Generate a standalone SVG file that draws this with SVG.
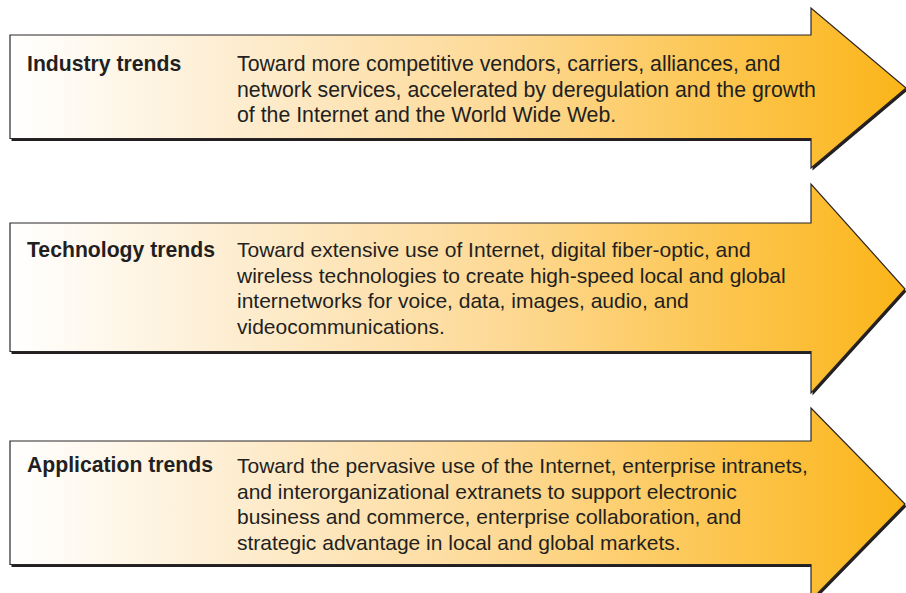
<svg xmlns="http://www.w3.org/2000/svg" width="906" height="593" viewBox="0 0 906 593">
  <defs>
    <linearGradient id="grad" gradientUnits="userSpaceOnUse" x1="10" y1="0" x2="906" y2="0">
      <stop offset="0" stop-color="#ffffff"/>
      <stop offset="0.28" stop-color="#fdebcb"/>
      <stop offset="0.55" stop-color="#fdd995"/>
      <stop offset="0.8" stop-color="#fcc54e"/>
      <stop offset="1" stop-color="#fbb519"/>
    </linearGradient>
    <style>
      .shadow { fill: #231f20; }
      .body { fill: url(#grad); stroke: #2a2627; stroke-width: 1.2; stroke-linejoin: miter; }
      .title { font-family: "Liberation Sans", Arial, sans-serif; font-size: 21.2px; font-weight: bold; fill: #231f20; }
      .desc { font-family: "Liberation Sans", Arial, sans-serif; font-size: 21px; fill: #231f20; }
      .desc1 { font-size: 21.3px; }
    </style>
  </defs>
  <rect width="906" height="593" fill="#ffffff"/>

  <g id="industry">
    <path class="shadow" transform="translate(1.5,2.5)" d="M10,35 H811 V8 L906,88 L811,168 V138.5 H10 Z"/>
    <path class="body" d="M10,35 H811 V8 L906,88 L811,168 V138.5 H10 Z"/>
    <text class="title" x="27" y="71">Industry trends</text>
    <text class="desc desc1" x="237" y="71">Toward more competitive vendors, carriers, alliances, and</text>
    <text class="desc desc1" x="237" y="96.5">network services, accelerated by deregulation and the growth</text>
    <text class="desc desc1" x="237" y="122">of the Internet and the World Wide Web.</text>
  </g>

  <g id="technology">
    <path class="shadow" transform="translate(1.5,2.5)" d="M10,223 H811 V184 L905,289 L811,393 V351.5 H10 Z"/>
    <path class="body" d="M10,223 H811 V184 L905,289 L811,393 V351.5 H10 Z"/>
    <text class="title" x="27" y="257">Technology trends</text>
    <text class="desc" x="237" y="257">Toward extensive use of Internet, digital fiber-optic, and</text>
    <text class="desc" x="237" y="282.5">wireless technologies to create high-speed local and global</text>
    <text class="desc" x="237" y="308">internetworks for voice, data, images, audio, and</text>
    <text class="desc" x="237" y="333.5">videocommunications.</text>
  </g>

  <g id="application">
    <path class="shadow" transform="translate(1.5,2.5)" d="M10,441 H811 V408 L905,504 L811,600 V564.5 H10 Z"/>
    <path class="body" d="M10,441 H811 V408 L905,504 L811,600 V564.5 H10 Z"/>
    <text class="title" x="27" y="472">Application trends</text>
    <text class="desc" x="237" y="473">Toward the pervasive use of the Internet, enterprise intranets,</text>
    <text class="desc" x="237" y="498.5">and interorganizational extranets to support electronic</text>
    <text class="desc" x="237" y="524">business and commerce, enterprise collaboration, and</text>
    <text class="desc" x="237" y="549.5">strategic advantage in local and global markets.</text>
  </g>

  <g id="connectors"/>
</svg>
